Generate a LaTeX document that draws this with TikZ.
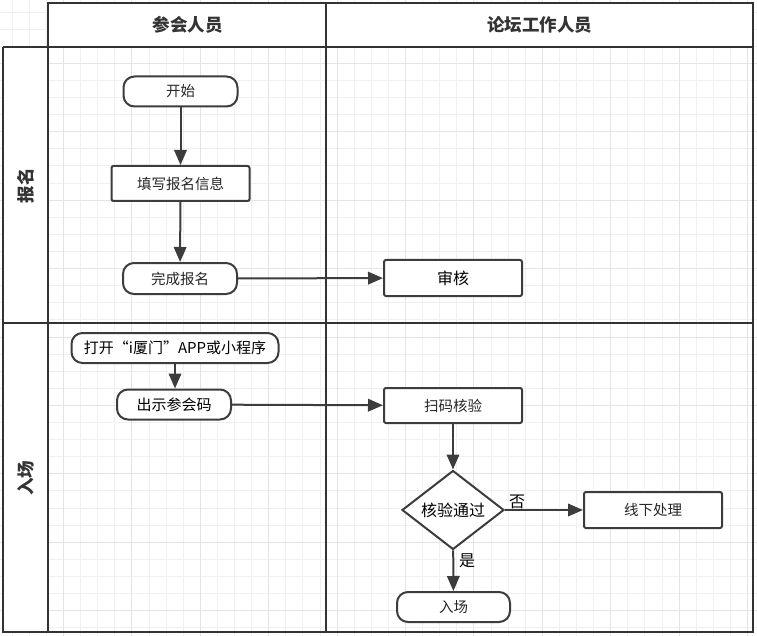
\documentclass[tikz,border=0pt]{standalone}
\usepackage{fontspec}
\setmainfont{Noto Sans CJK SC}
\usetikzlibrary{arrows.meta,shapes.geometric}
\definecolor{frame}{HTML}{333333}
\definecolor{edge}{HTML}{3C3C3C}
\definecolor{gridminor}{HTML}{F0F0F0}
\definecolor{gridmajor}{HTML}{E4E4E4}
\begin{document}
\begin{tikzpicture}[x=1pt,y=-1pt,
  lane/.style={draw=frame,line width=2.4pt},
  txt/.style={font=\fontsize{14.5}{16}\selectfont,text=black!85},
  proc/.style={txt,draw=edge,line width=2pt,fill=white,rounded corners=2pt,minimum width=138pt,minimum height=35pt,inner sep=0pt},
  term/.style={txt,draw=edge,line width=2pt,fill=white,rounded corners=11pt,minimum width=114pt,minimum height=30pt,inner sep=0pt},
  decide/.style={diamond,draw=edge,line width=2pt,fill=white,shape aspect=1.3,minimum width=102pt,minimum height=79pt,inner sep=0pt,font=\fontsize{16}{18}\selectfont,text=black},
  flow/.style={draw=edge,line width=2pt,-{Triangle[length=15pt,width=12.5pt]}},
  head/.style={font=\bfseries\fontsize{17.5}{19}\selectfont,text=black!80},
  elabel/.style={font=\fontsize{16}{18}\selectfont,text=black,inner sep=1pt}]
\useasboundingbox (0,0) rectangle (757,636);
% grid
\foreach \i in {0,...,43} \draw[gridminor,line width=0.8pt] ({12.1+17.1*\i},0) -- ({12.1+17.1*\i},636);
\foreach \i in {0,...,36} \draw[gridminor,line width=0.8pt] (0,{12+17.1*\i}) -- (757,{12+17.1*\i});
\foreach \i in {3,7,...,43} \draw[gridmajor,line width=0.8pt] ({12.1+17.1*\i},0) -- ({12.1+17.1*\i},636);
\foreach \i in {3,7,...,35} \draw[gridmajor,line width=0.8pt] (0,{12+17.1*\i}) -- (757,{12+17.1*\i});
% white header and lane-label areas
\fill[white] (48,3) rectangle (753,47);
\fill[white] (3,47) rectangle (48,632);
% frame
\draw[lane] (48,3) rectangle (753,632);
\draw[lane] (3,47) -- (753,47);
\draw[lane] (3,47) -- (3,632) -- (48,632);
\draw[lane] (3,323) -- (753,323);
\draw[lane] (326,3) -- (326,632);
% headers
\node[head] (h1) at (187.5,25) {参会人员};
\node[head] (h2) at (539.5,25) {论坛工作人员};
\node[head,rotate=90] (l1) at (25.5,186) {报名};
\node[head,rotate=90] (l2) at (25.5,478) {入场};
% nodes
\node[term] (start) at (180.5,91.5) {开始};
\node[proc] (fill) at (180.5,183.5) {填写报名信息};
\node[term,minimum height=31pt] (done) at (180,278.5) {完成报名};
\node[proc,minimum height=36pt,font=\fontsize{16}{18}\selectfont,text=black] (review) at (453,278) {审核};
\node[term,minimum width=207pt,font=\fontsize{15}{17}\selectfont,text=black] (open) at (175,348) {打开“i厦门”APP或小程序};
\node[term,minimum width=114pt,font=\fontsize{15}{17}\selectfont,text=black] (show) at (174,404.5) {出示参会码};
\node[proc] (scan) at (453,405.5) {扫码核验};
\node[decide] (check) at (453,510) {核验通过};
\node[proc,minimum height=36pt] (offline) at (653,510) {线下处理};
\node[term,minimum width=113pt] (enter) at (453.5,607) {入场};
% connectors
\draw[flow] (start) -- (fill);
\draw[flow] (fill) -- (done);
\draw[flow] (done) -- (review);
\draw[flow] (open.south) -- (open.south |- show.north);
\draw[flow] (show) -- (scan);
\draw[flow] (scan) -- (check);
\draw[flow] (check) -- node[elabel,at start,anchor=south west,xshift=2pt,yshift=-1pt] {否} (offline);
\draw[flow] (check) -- node[elabel,at start,anchor=north west,xshift=4pt,yshift=-1pt] {是} (enter);
\end{tikzpicture}
\end{document}
